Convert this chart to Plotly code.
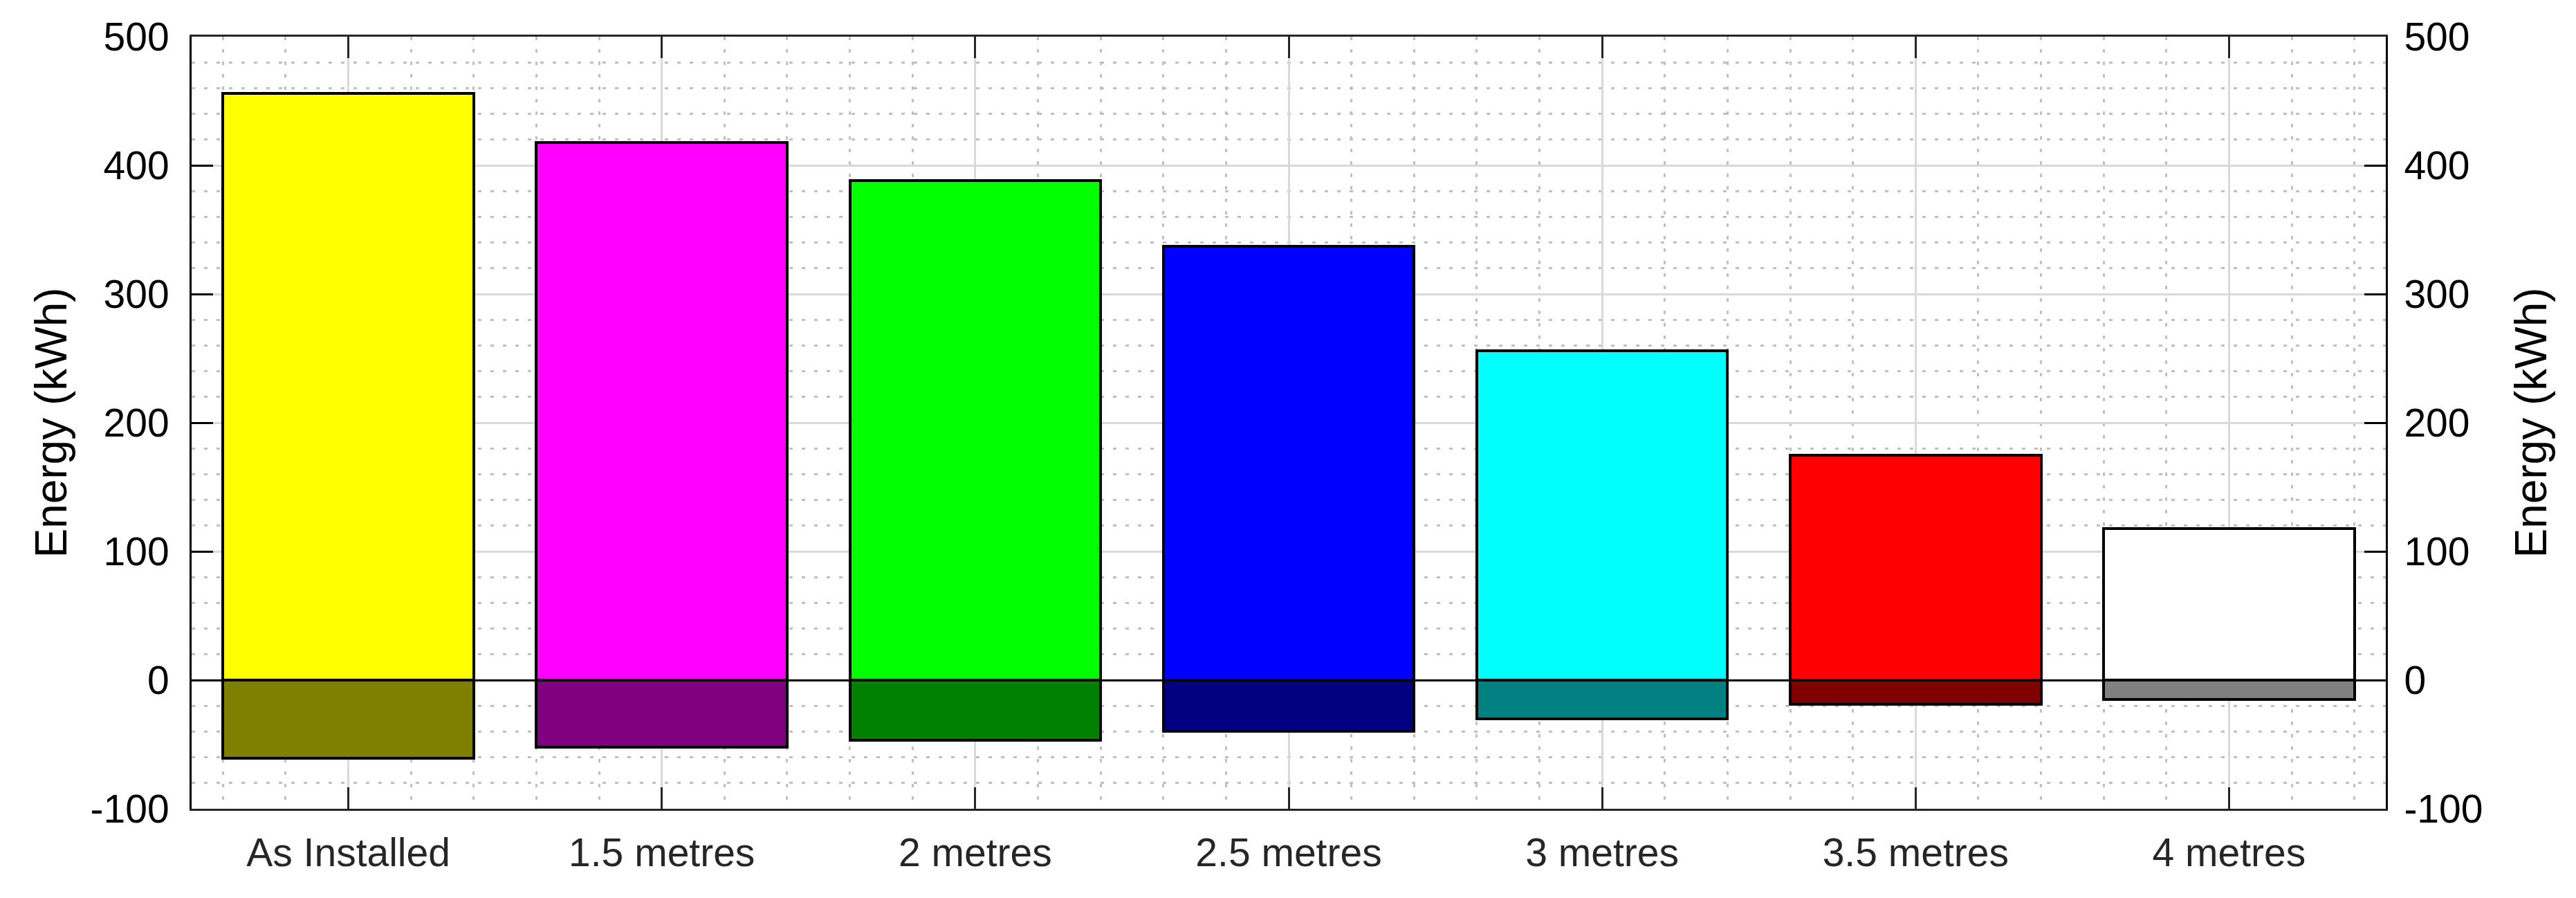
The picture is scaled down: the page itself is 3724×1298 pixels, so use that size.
import plotly.graph_objects as go

categories = ["As Installed", "1.5 metres", "2 metres", "2.5 metres", "3 metres", "3.5 metres", "4 metres"]
positive_kwh = [456, 418, 388, 337, 256, 175, 118]
negative_kwh = [-61, -52, -47, -40, -30, -19, -15]
positive_colors = ["#ffff00", "#ff00ff", "#00ff00", "#0000ff", "#00ffff", "#ff0000", "#ffffff"]
negative_colors = ["#808000", "#800080", "#008000", "#000080", "#008080", "#800000", "#808080"]
y_tick_values = [-100, 0, 100, 200, 300, 400, 500]
y_tick_labels = ["-100", "0", "100", "200", "300", "400", "500"]

idx = list(range(len(categories)))
FONT = "Liberation Sans, Arial, sans-serif"

fig = go.Figure()
fig.add_trace(go.Bar(x=idx, y=positive_kwh, width=0.8,
                     marker=dict(color=positive_colors, line=dict(color="#000000", width=4)),
                     showlegend=False, hoverinfo="y"))
fig.add_trace(go.Bar(x=idx, y=negative_kwh, width=0.8,
                     marker=dict(color=negative_colors, line=dict(color="#000000", width=4)),
                     showlegend=False, hoverinfo="y"))
# invisible helper so the right-hand axis is rendered
fig.add_trace(go.Scatter(x=[idx[0]], y=[positive_kwh[0]], yaxis="y2", mode="markers",
                         marker=dict(opacity=0), showlegend=False, hoverinfo="skip"))

grid_major = "#d9d9d9"
grid_minor = "#c0c0c0"

yaxis_common = dict(
    range=[-100, 500],
    tickmode="array", tickvals=y_tick_values, ticktext=y_tick_labels,
    ticks="inside", ticklen=31, tickwidth=3, tickcolor="#000000",
    showline=True, linecolor="#000000", linewidth=3,
    tickfont=dict(family=FONT, size=57, color="#000000"),
)

fig.update_layout(
    width=3724, height=1298,
    margin=dict(l=269, r=283, t=45, b=137),
    paper_bgcolor="white", plot_bgcolor="white",
    barmode="relative", bargap=0,
    font=dict(family=FONT, size=57, color="#000000"),
    xaxis=dict(
        range=[-0.5, len(categories) - 0.5],
        tickmode="array", tickvals=idx, ticktext=categories,
        ticks="inside", ticklen=31, tickwidth=3, tickcolor="#262626",
        showline=True, linecolor="#262626", linewidth=3, mirror="ticks",
        showgrid=True, gridcolor=grid_major, gridwidth=3,
        minor=dict(dtick=0.2, tick0=0, showgrid=True, gridcolor=grid_minor,
                   gridwidth=3, griddash="5px,13px", ticks=""),
        tickfont=dict(family=FONT, size=57, color="#262626"),
        ticklabelstandoff=12,
        zeroline=False,
    ),
    yaxis=dict(
        **yaxis_common,
        ticklabelstandoff=18,
        title=dict(text="Energy (kWh)", font=dict(family=FONT, size=64, color="#000000"), standoff=14),
        showgrid=True, gridcolor=grid_major, gridwidth=3,
        minor=dict(dtick=20, tick0=0, showgrid=True, gridcolor=grid_minor,
                   gridwidth=3, griddash="5px,13px", ticks=""),
        zeroline=True, zerolinecolor="#000000", zerolinewidth=3,
    ),
    yaxis2=dict(
        **yaxis_common,
        ticklabelstandoff=12,
        title=dict(text="Energy (kWh)", font=dict(family=FONT, size=64, color="#000000"), standoff=48),
        overlaying="y", side="right",
        showgrid=False, zeroline=False,
    ),
)

fig.write_html("out.html")
